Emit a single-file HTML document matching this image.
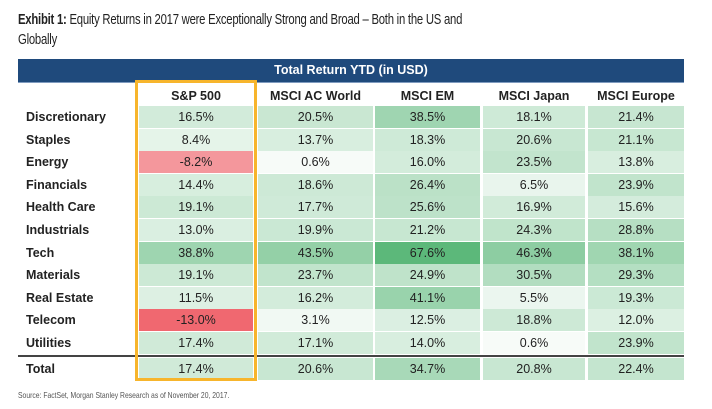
<!DOCTYPE html>
<html><head><meta charset="utf-8"><style>
body{margin:0;width:712px;height:409px;background:#fff;font-family:"Liberation Sans",sans-serif;position:relative;overflow:hidden}
.t{position:absolute;left:18px;top:10px;font-size:14.5px;line-height:20px;color:#222;letter-spacing:-0.3px;transform:scaleX(0.78);transform-origin:left top;white-space:nowrap}
.hdr{position:absolute;left:18px;top:59px;width:666px;height:23px;background:#1f4a7c;color:#fff;font-weight:bold;font-size:12.5px;text-align:center;line-height:23px;border-bottom:1px solid #7f9bbf}
.c{position:absolute;font-size:12.5px;text-align:center;color:#222;box-sizing:border-box}
.lab{position:absolute;left:26px;font-size:12.5px;font-weight:bold;color:#222}
.ch{position:absolute;font-size:12.5px;font-weight:bold;text-align:center;color:#222;top:89px}
.box{position:absolute;left:135px;top:80px;width:122px;height:301px;border:3px solid #f7b52c;box-sizing:border-box}
.sep{position:absolute;left:18px;top:355px;width:666px;height:2px;background:#444}
.src{position:absolute;left:18px;top:390px;font-size:8.5px;color:#555;transform:scaleX(0.8);transform-origin:left top;white-space:nowrap}
</style></head><body>
<div class="t"><b>Exhibit 1:</b> Equity Returns in 2017 were Exceptionally Strong and Broad – Both in the US and<br>Globally</div>
<div class="hdr">Total Return YTD (in USD)</div>
<div id="grid"></div>
<div class="sep"></div>
<div class="box"></div>
<div class="src">Source: FactSet, Morgan Stanley Research as of November 20, 2017.</div>
<script>
const columns=["S&P 500","MSCI AC World","MSCI EM","MSCI Japan","MSCI Europe"];
const sectors=["Discretionary","Staples","Energy","Financials","Health Care","Industrials","Tech","Materials","Real Estate","Telecom","Utilities","Total"];
const sp500=[16.5,8.4,-8.2,14.4,19.1,13.0,38.8,19.1,11.5,-13.0,17.4,17.4];
const acWorld=[20.5,13.7,0.6,18.6,17.7,19.9,43.5,23.7,16.2,3.1,17.1,20.6];
const em=[38.5,18.3,16.0,26.4,25.6,21.2,67.6,24.9,41.1,12.5,14.0,34.7];
const japan=[18.1,20.6,23.5,6.5,16.9,24.3,46.3,30.5,5.5,18.8,0.6,20.8];
const europe=[21.4,21.1,13.8,23.9,15.6,28.8,38.1,29.3,19.3,12.0,23.9,22.4];
const series=[sp500,acWorld,em,japan,europe];
const colX=[139,258,375,483,588], colW=[114,115,105,102,96];
function rowY(i){return i<11?106+i*22.6:358;}
function color(v){
  if(v<0){const t=Math.min(1,-v/13);const w=[250,230,230],r=[240,104,112];
    return 'rgb('+w.map((a,k)=>Math.round(a+(r[k]-a)*t)).join(',')+')';}
  const t=Math.min(1,v/67.6);const w=[248,252,249],g=[92,184,122];
  return 'rgb('+w.map((a,k)=>Math.round(a+(g[k]-a)*t)).join(',')+')';
}
const grid=document.getElementById('grid');
columns.forEach((c,j)=>{
  const d=document.createElement('div');d.className='ch';
  
  
  d.style.left=colX[j]+'px';d.style.width=colW[j]+'px';d.textContent=c;grid.appendChild(d);
});
sectors.forEach((s,i)=>{
  const y=rowY(i);
  const l=document.createElement('div');l.className='lab';
  
  
  l.style.top=(y+4)+'px';l.textContent=s;grid.appendChild(l);
  series.forEach((arr,j)=>{
    const v=arr[i];const d=document.createElement('div');d.className='c';
    
    
    d.style.left=colX[j]+'px';d.style.width=colW[j]+'px';d.style.top=y+'px';
    d.style.height='22px';d.style.lineHeight='22px';
    d.style.background=color(v);d.textContent=v.toFixed(1)+'%';grid.appendChild(d);
  });
});
</script>
</body></html>
